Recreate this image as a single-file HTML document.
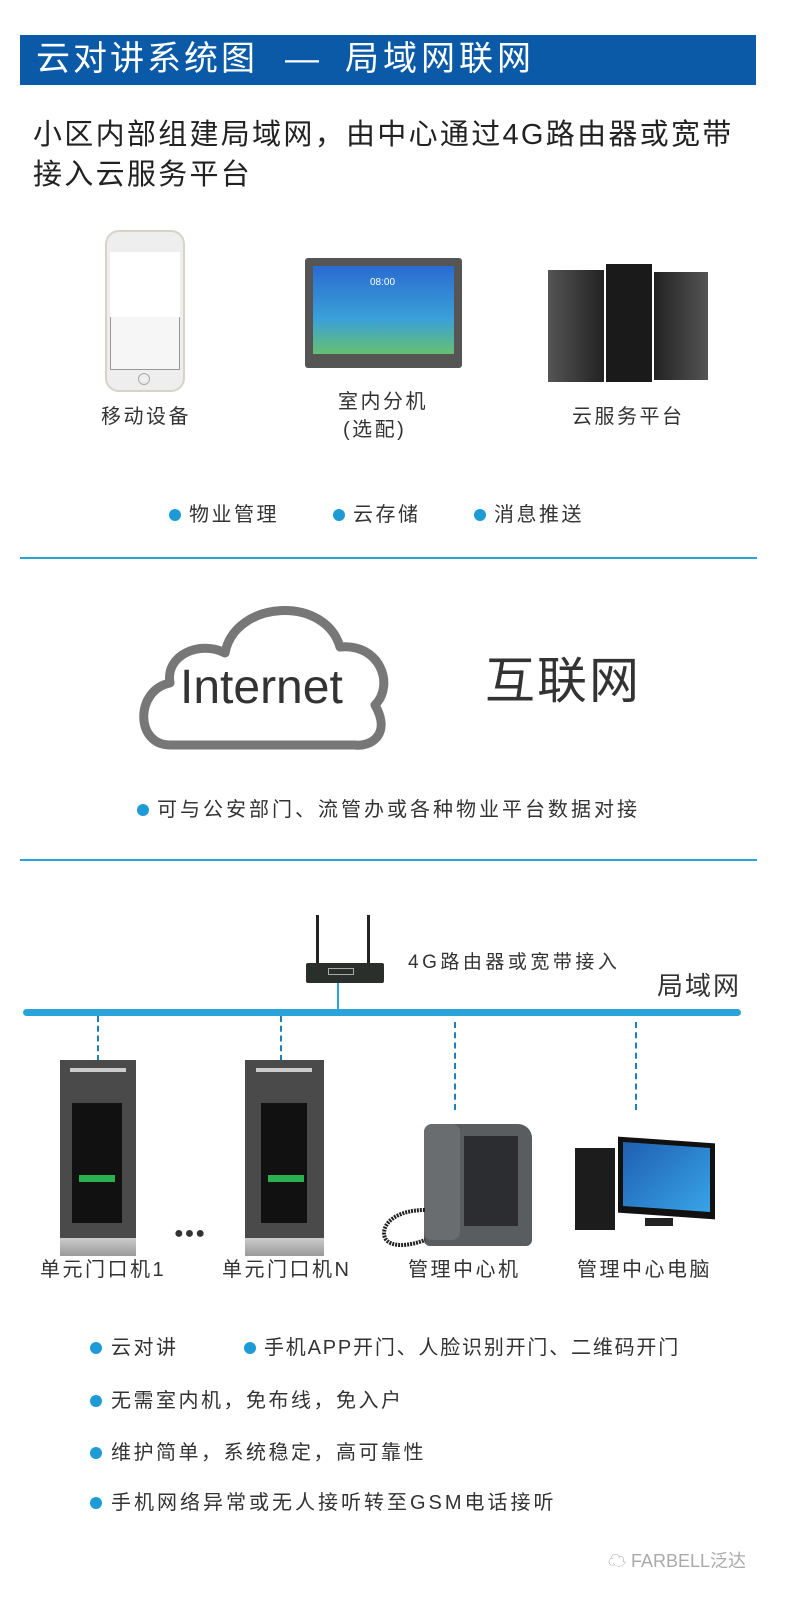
<!DOCTYPE html>
<html><head><meta charset="utf-8"><style>
*{margin:0;padding:0;box-sizing:border-box}
body{width:790px;height:1600px;background:#fff;position:relative;overflow:hidden;font-family:"Liberation Sans","Noto Sans CJK SC",sans-serif;color:#333}
.a{position:absolute;white-space:nowrap}
.t{line-height:1}
.b{font-size:20px;letter-spacing:2.5px}
.dot{position:absolute;width:12px;height:12px;border-radius:50%;background:#1e9ad6}
.hl{position:absolute;left:20px;width:737px;height:2px;background:#29a3d9}
.dash{position:absolute;width:0;border-left:2px dashed #1e7fc0}
</style></head><body>
<div class="a" style="left:20px;top:35px;width:736px;height:50px;background:#0a5aa8"></div>
<div class="a t" style="left:36px;top:42px;font-size:34px;letter-spacing:3px;color:#fff">云对讲系统图</div>
<div class="a t" style="left:285px;top:42px;font-size:34px;color:#fff">—</div>
<div class="a t" style="left:345px;top:42px;font-size:34px;letter-spacing:4px;color:#fff">局域网联网</div>
<div class="a t" style="left:33px;top:121px;font-size:29px;letter-spacing:2.3px;color:#222">小区内部组建局域网，由中心通过4G路由器或宽带</div>
<div class="a t" style="left:33px;top:161px;font-size:29px;letter-spacing:2.3px;color:#222">接入云服务平台</div>

<!-- phone -->
<div class="a" style="left:105px;top:230px;width:80px;height:162px;border-radius:14px;background:#eee;border:2px solid #d8d3c8"></div>
<div class="a" style="left:110px;top:252px;width:70px;height:118px;background:#f6f6f6;border:1px solid #999"></div>
<div class="a" style="left:110px;top:252px;width:70px;height:65px;background:#fff"></div>
<div class="a" style="left:138px;top:373px;width:12px;height:12px;border-radius:50%;border:1px solid #aaa"></div>
<!-- tablet -->
<div class="a" style="left:305px;top:258px;width:157px;height:110px;background:#555;border-radius:3px"></div>
<div class="a" style="left:313px;top:266px;width:141px;height:88px;background:linear-gradient(#2a6bd0,#3aa0d8 60%,#66c070)"></div>
<div class="a t" style="left:370px;top:278px;font-size:10px;color:#fff">08:00</div>
<!-- servers -->
<div class="a" style="left:548px;top:270px;width:56px;height:112px;background:linear-gradient(90deg,#555,#222)"></div>
<div class="a" style="left:606px;top:264px;width:46px;height:118px;background:#1a1a1a"></div>
<div class="a" style="left:654px;top:272px;width:54px;height:108px;background:linear-gradient(90deg,#222,#555)"></div>

<div class="a t b" style="left:101px;top:407px">移动设备</div>
<div class="a t b" style="left:338px;top:392px">室内分机</div>
<div class="a t b" style="left:343px;top:420px">(选配)</div>
<div class="a t b" style="left:572px;top:407px">云服务平台</div>

<div class="dot" style="left:169px;top:509px"></div><div class="a t b" style="left:189px;top:505px">物业管理</div>
<div class="dot" style="left:333px;top:509px"></div><div class="a t b" style="left:353px;top:505px">云存储</div>
<div class="dot" style="left:474px;top:509px"></div><div class="a t b" style="left:494px;top:505px">消息推送</div>
<div class="hl" style="top:557px"></div>

<svg class="a" style="left:130px;top:585px" width="270" height="175" viewBox="0 0 270 175">
<path d="M40 160 C5 160 5 105 40 98 C35 70 70 55 95 68 C105 15 195 10 210 62 C250 58 265 100 245 120 C262 150 240 162 225 160 Z" fill="none" stroke="#777" stroke-width="9" stroke-linejoin="round"/>
</svg>
<div class="a t" style="left:180px;top:664px;font-size:48px;color:#333">Internet</div>
<div class="a t" style="left:485px;top:656px;font-size:50px;letter-spacing:2px;color:#333">互联网</div>
<div class="dot" style="left:137px;top:804px"></div><div class="a t" style="left:157px;top:800px;font-size:20px;letter-spacing:3px">可与公安部门、流管办或各种物业平台数据对接</div>
<div class="hl" style="top:859px"></div>

<!-- router -->
<div class="a" style="left:316px;top:915px;width:3px;height:50px;background:#222"></div>
<div class="a" style="left:367px;top:915px;width:3px;height:50px;background:#222"></div>
<div class="a" style="left:306px;top:963px;width:78px;height:20px;background:#2a2f2c;border-radius:2px"></div>
<div class="a" style="left:328px;top:968px;width:26px;height:7px;border:1px solid #aaa"></div>
<div class="a" style="left:337px;top:983px;width:2px;height:28px;background:#29a3d9"></div>
<div class="a t" style="left:408px;top:953px;font-size:19px;letter-spacing:3.5px">4G路由器或宽带接入</div>
<div class="a t" style="left:657px;top:973px;font-size:26px;letter-spacing:2px">局域网</div>
<div class="a" style="left:23px;top:1009px;width:718px;height:7px;border-radius:4px;background:#29a3d9"></div>

<div class="dash" style="left:97px;top:1016px;height:45px"></div>
<div class="dash" style="left:280px;top:1016px;height:45px"></div>
<div class="dash" style="left:454px;top:1022px;height:88px"></div>
<div class="dash" style="left:635px;top:1022px;height:88px"></div>

<!-- door stations -->
<div class="a" style="left:60px;top:1060px;width:76px;height:196px;background:#4a4a4a"></div>
<div class="a" style="left:60px;top:1238px;width:76px;height:18px;background:linear-gradient(#ccc,#999)"></div>
<div class="a" style="left:70px;top:1068px;width:56px;height:4px;background:#ccc"></div>
<div class="a" style="left:72px;top:1103px;width:50px;height:120px;background:#111"></div>
<div class="a" style="left:79px;top:1175px;width:36px;height:7px;background:#2bb050"></div>
<div class="a" style="left:245px;top:1060px;width:79px;height:196px;background:#4a4a4a"></div>
<div class="a" style="left:245px;top:1238px;width:79px;height:18px;background:linear-gradient(#ccc,#999)"></div>
<div class="a" style="left:256px;top:1068px;width:56px;height:4px;background:#ccc"></div>
<div class="a" style="left:261px;top:1103px;width:46px;height:120px;background:#111"></div>
<div class="a" style="left:268px;top:1175px;width:36px;height:7px;background:#2bb050"></div>
<div class="a t" style="left:174px;top:1226px;font-size:16px;color:#333;letter-spacing:1px">●●●</div>

<!-- desk phone -->
<div class="a" style="left:424px;top:1124px;width:108px;height:122px;background:#5a5d60;border-radius:8px 14px 6px 6px"></div>
<div class="a" style="left:464px;top:1136px;width:54px;height:90px;background:#2b2d30"></div>
<div class="a" style="left:424px;top:1124px;width:36px;height:116px;background:#6a6d70;border-radius:8px"></div>
<svg class="a" style="left:375px;top:1200px" width="70" height="50"><path d="M50 10 C20 10 5 25 10 38 C15 48 35 46 50 40" fill="none" stroke="#222" stroke-width="4" stroke-dasharray="2 1"/></svg>
<!-- pc -->
<div class="a" style="left:575px;top:1148px;width:40px;height:82px;background:#1c1c1c"></div>
<div class="a" style="left:618px;top:1140px;width:97px;height:76px;background:#111;transform:skewY(4deg)"></div>
<div class="a" style="left:623px;top:1145px;width:87px;height:64px;background:linear-gradient(135deg,#1f5fb0,#38a4e8);transform:skewY(4deg)"></div>
<div class="a" style="left:645px;top:1218px;width:28px;height:8px;background:#222"></div>

<div class="a t b" style="left:40px;top:1260px">单元门口机1</div>
<div class="a t b" style="left:222px;top:1260px">单元门口机N</div>
<div class="a t b" style="left:408px;top:1260px">管理中心机</div>
<div class="a t b" style="left:577px;top:1260px">管理中心电脑</div>

<div class="dot" style="left:90px;top:1342px"></div><div class="a t b" style="left:111px;top:1338px">云对讲</div>
<div class="dot" style="left:244px;top:1342px"></div><div class="a t" style="left:264px;top:1338px;font-size:20px;letter-spacing:1.8px">手机APP开门、人脸识别开门、二维码开门</div>
<div class="dot" style="left:90px;top:1395px"></div><div class="a t b" style="left:111px;top:1391px">无需室内机，免布线，免入户</div>
<div class="dot" style="left:90px;top:1447px"></div><div class="a t b" style="left:111px;top:1443px">维护简单，系统稳定，高可靠性</div>
<div class="dot" style="left:90px;top:1497px"></div><div class="a t" style="left:111px;top:1493px;font-size:20px;letter-spacing:3px">手机网络异常或无人接听转至GSM电话接听</div>
<div class="a t" style="left:608px;top:1552px;font-size:18px;color:#aaa">☁ FARBELL泛达</div>
</body></html>
